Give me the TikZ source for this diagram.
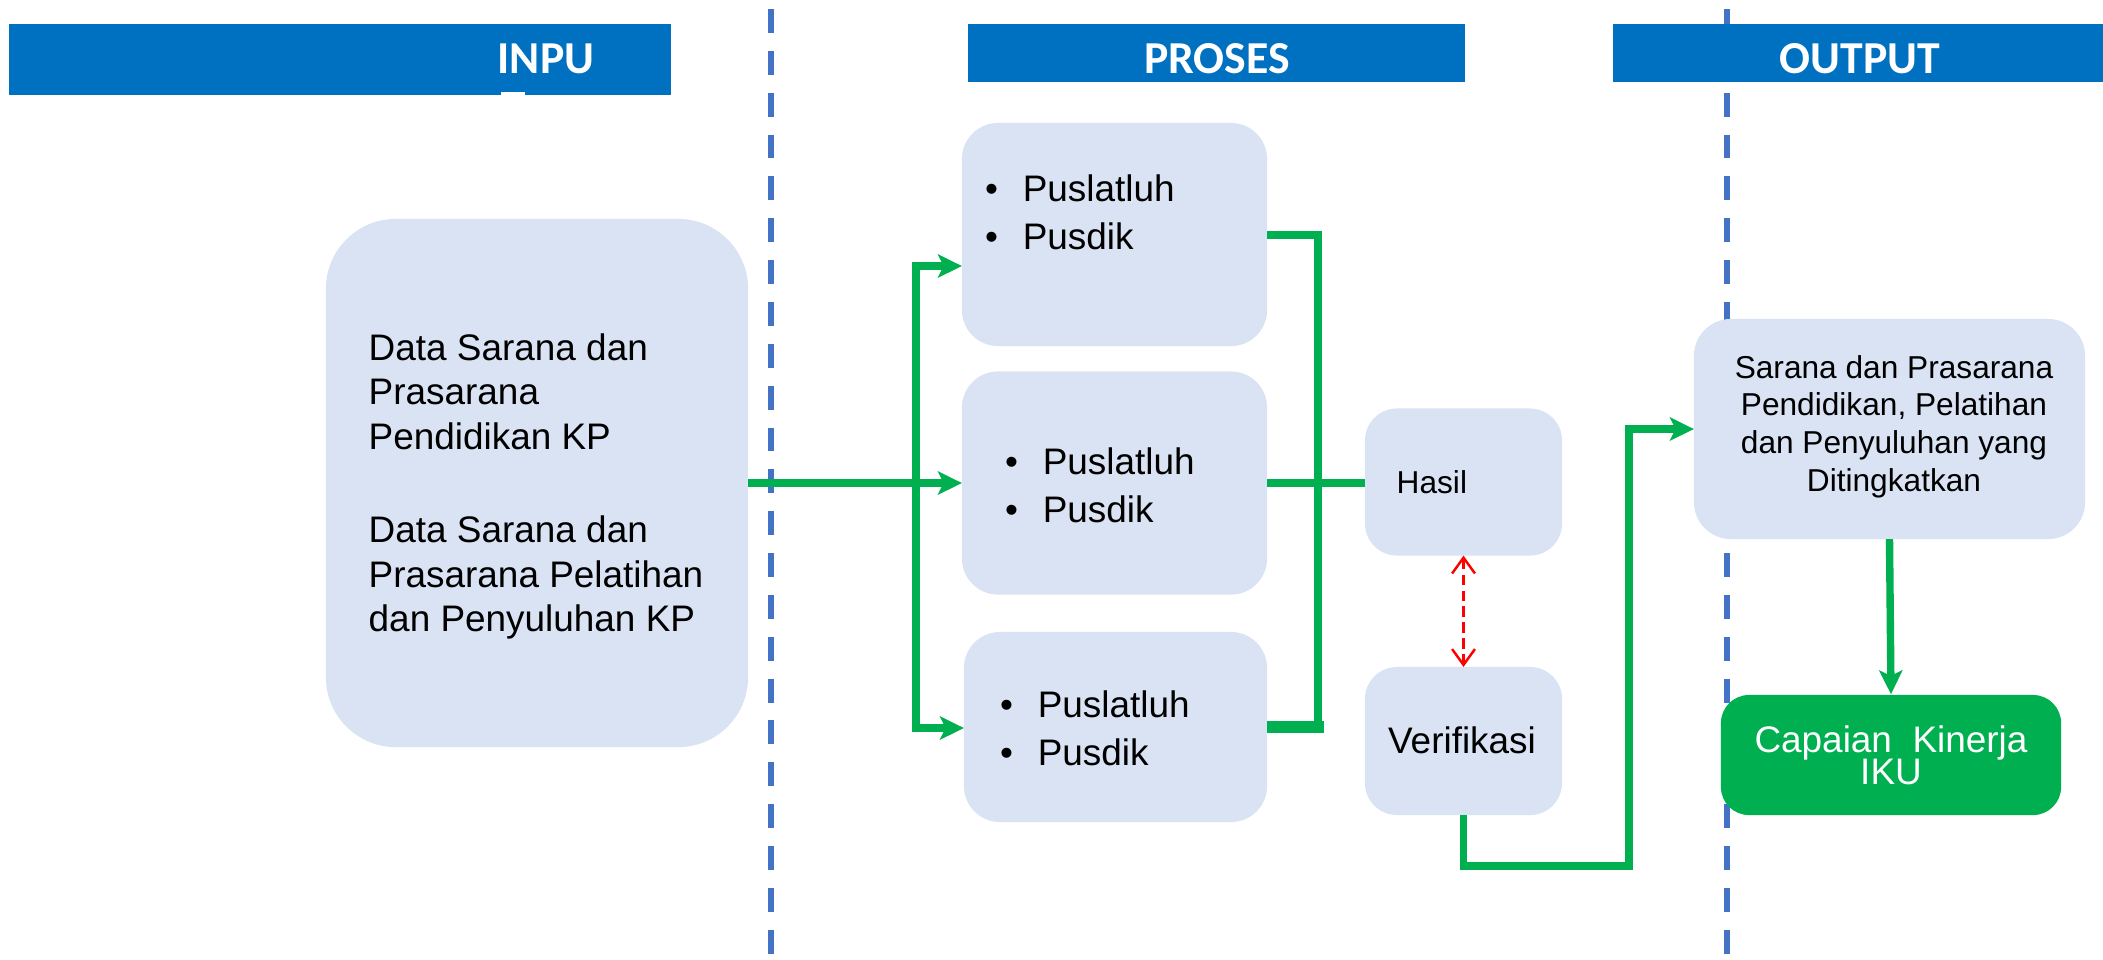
\documentclass[tikz,border=0pt]{standalone}
\usepackage{fontspec}
\setmainfont{Liberation Sans}
\newfontfamily\hdrfont{Carlito}
\usetikzlibrary{arrows.meta}
\definecolor{barblue}{HTML}{0070C0}
\definecolor{dashblue}{HTML}{4472C4}
\definecolor{boxfill}{HTML}{DAE3F3}
\definecolor{grn}{HTML}{00B050}
\definecolor{redarr}{HTML}{FF0000}
\begin{document}
\begin{tikzpicture}[x=0.01cm, y=-0.01cm,
  bar/.style={fill=barblue, draw=none, inner sep=0, outer sep=0},
  hdr/.style={text=white, font=\hdrfont\bfseries\fontsize{13}{15}\selectfont, inner sep=0, anchor=base},
  sep/.style={draw=dashblue, line width=1.7pt, dash pattern=on 6.8pt off 5.1pt},
  box/.style={fill=boxfill, draw=none, inner sep=0, outer sep=0},
  body/.style={inner sep=0, text=black, font=\fontsize{10.5}{13.7}\selectfont},
  gl/.style={draw=grn, line width=2.1pt, line join=miter},
  gtip/.style={-{Stealth[length=6.8pt,width=6.6pt,inset=1.6pt]}},
  gtips/.style={{Stealth[length=6.8pt,width=6.6pt,inset=1.6pt]}-{Stealth[length=6.8pt,width=6.6pt,inset=1.6pt]}},
  redarrow/.style={draw=redarr, line width=0.7pt, dash pattern=on 3pt off 1.5pt,
    {Straight Barb[length=4.5pt,width=6.5pt]}-{Straight Barb[length=4.5pt,width=6.5pt]}}
]
\useasboundingbox (0,0) rectangle (2103,959);

% separators
\coordinate (s1t) at (771,9);
\coordinate (s1b) at (771,959);
\coordinate (s2t) at (1727,9);
\coordinate (s2b) at (1727,959);
\draw[sep] (s1t) -- (s1b);
\draw[sep] (s2t) -- (s2b);

% header bars
\node[bar, minimum width=6.62cm, minimum height=0.71cm] (inbar) at (340,59.5) {};
\node[bar, minimum width=4.97cm, minimum height=0.58cm] (pbar) at (1216.5,53) {};
\node[bar, minimum width=4.90cm, minimum height=0.58cm] (obar) at (1858,53) {};
\fill[white] (501,92) rectangle (525,98);
\node[hdr] (inlbl) at (546,73) {INPU};
\node[hdr] (plbl) at (1217,73) {PROSES};
\node[hdr] (olbl) at (1860,73) {OUTPUT};

% boxes
\node[box, rounded corners=0.7cm, minimum width=4.22cm, minimum height=5.28cm] (inbox) at (537,483) {};
\node[box, rounded corners=0.36cm, minimum width=3.05cm, minimum height=2.23cm] (p1) at (1114.5,234.5) {};
\node[box, rounded corners=0.36cm, minimum width=3.05cm, minimum height=2.23cm] (p2) at (1114.5,483) {};
\node[box, rounded corners=0.36cm, minimum width=3.03cm, minimum height=1.90cm] (p3) at (1115.5,727) {};
\node[box, rounded corners=0.32cm, minimum width=1.97cm, minimum height=1.47cm] (hasil) at (1463.5,482) {};
\node[box, rounded corners=0.32cm, minimum width=1.97cm, minimum height=1.48cm] (verif) at (1463.5,741) {};
\node[box, rounded corners=0.37cm, minimum width=3.91cm, minimum height=2.20cm] (sarana) at (1889.5,429) {};
\node[fill=grn, draw=none, inner sep=0, rounded corners=0.28cm, minimum width=3.40cm, minimum height=1.20cm] (capaian) at (1891,755) {};

% texts
\node[body, anchor=west, align=left, font=\fontsize{10.5}{12.6}\selectfont] (intxt) at (368,486.5)
  {Data Sarana dan\\Prasarana\\Pendidikan KP\\[14pt]Data Sarana dan\\Prasarana Pelatihan\\dan Penyuluhan KP};
\node[body, anchor=west, align=left] (t1) at (984.5,212.5)
  {\makebox[10.7pt][l]{•}Puslatluh\\\makebox[10.7pt][l]{•}Pusdik};
\node[body, anchor=west, align=left] (t2) at (1004.5,485.5)
  {\makebox[10.7pt][l]{•}Puslatluh\\\makebox[10.7pt][l]{•}Pusdik};
\node[body, anchor=west, align=left] (t3) at (999.5,728)
  {\makebox[10.7pt][l]{•}Puslatluh\\\makebox[10.7pt][l]{•}Pusdik};
\node[body, anchor=base west, font=\fontsize{9}{11}\selectfont] (hasiltxt) at (1396,493) {Hasil};
\node[body, anchor=base] (veriftxt) at (1462,753) {Verifikasi};
\node[body, align=center, font=\fontsize{9}{10.7}\selectfont] (sartxt) at (1894,426.5)
  {Sarana dan Prasarana\\Pendidikan, Pelatihan\\dan Penyuluhan yang\\Ditingkatkan};
\node[body, align=center, text=white, font=\fontsize{10.5}{12}\selectfont] (captxt) at (1891,755)
  {Capaian~ Kinerja\\[-3pt]IKU};

% connectors
\coordinate (jt) at (916,266);
\coordinate (jb) at (916,728);
\coordinate (kt) at (1318,235);
\coordinate (kb) at (1318,727);
\coordinate (kb2) at (1324,727);
\coordinate (v2) at (1629,866);
\coordinate (v3) at (1629,429);

\draw[gl, gtip] (inbox.east) -- (inbox.east -| p2.west);
\draw[gl, gtips] (jt -| p1.west) -- (jt) -- (jb) -- (jb -| p3.west);
\draw[gl] (p1.east |- kt) -- (kt) -- (kb);
\draw[gl, line width=3.4pt] (p3.east |- kb) -- (kb2);
\draw[gl] (p2.east) -- (p2.east -| hasil.west);
\draw[redarrow] (hasil.south) -- (verif.north);
\draw[gl, gtip] (verif.south) |- (v2) -- (v3) -- (v3 -| sarana.west);
\draw[gl, gtip] (sarana.south) -- (capaian.north);
\end{tikzpicture}
\end{document}
